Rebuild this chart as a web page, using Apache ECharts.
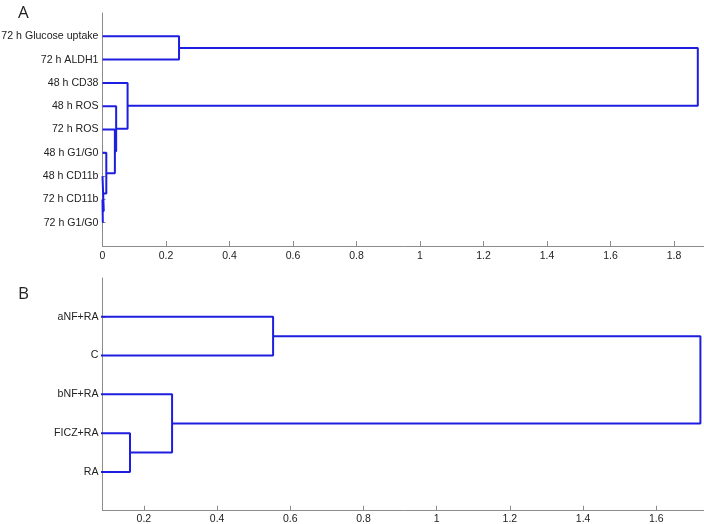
<!DOCTYPE html>
<html>
<head>
<meta charset="utf-8">
<script src="https://cdn.jsdelivr.net/npm/echarts@6/dist/echarts.min.js"></script>
<style>
  html, body { margin: 0; padding: 0; background: #fff; }
  #main { width: 704px; height: 524px; }
</style>
</head>
<body>
<div id="main"></div>
<script>
// leaves, top to bottom
var leavesA = ['72 h Glucose uptake', '72 h ALDH1', '48 h CD38', '48 h ROS', '72 h ROS',
               '48 h G1/G0', '48 h CD11b', '72 h CD11b', '72 h G1/G0'];
var leavesB = ['aNF+RA', 'C', 'bNF+RA', 'FICZ+RA', 'RA'];

// merges: [left node, right node, height]; leaves are 1..n, new nodes n+1, n+2 ...
var linkA = [
  [8, 9, 0.001],
  [7, 10, 0.004],
  [6, 11, 0.012],
  [5, 12, 0.039],
  [4, 13, 0.043],
  [3, 14, 0.079],
  [1, 2, 0.241],
  [16, 15, 1.875]
];
var linkB = [
  [4, 5, 0.162],
  [3, 6, 0.277],
  [1, 2, 0.553],
  [8, 7, 1.7205]
];

// x tick labels
var ticksA = [0, 0.2, 0.4, 0.6, 0.8, 1, 1.2, 1.4, 1.6, 1.8];
var ticksB = [0.2, 0.4, 0.6, 0.8, 1, 1.2, 1.4, 1.6];

var blue = '#1e1ee0';
var gray = '#8c8c8c';

// turn a linkage into U-shaped polylines
function buildLinks(leaves, links, gridIndex) {
  var n = leaves.length;
  var pos = {}, hgt = {};
  for (var i = 1; i <= n; i++) { pos[i] = i; hgt[i] = 0; }
  var out = [];
  links.forEach(function (m, k) {
    var a = m[0], b = m[1], h = m[2];
    out.push({
      type: 'line',
      xAxisIndex: gridIndex,
      yAxisIndex: gridIndex,
      data: [[hgt[a], pos[a]], [h, pos[a]], [h, pos[b]], [hgt[b], pos[b]]],
      showSymbol: false,
      symbol: 'none',
      clip: true,
      silent: true,
      lineStyle: { color: blue, width: 2 }
    });
    pos[n + k + 1] = (pos[a] + pos[b]) / 2;
    hgt[n + k + 1] = h;
  });
  return out;
}

function range(n) {
  var r = [];
  for (var i = 1; i <= n; i++) r.push(i);
  return r;
}

function xAxisFor(gridIndex, min, max, ticks, margin) {
  return {
    type: 'value',
    gridIndex: gridIndex,
    position: 'bottom',
    min: min,
    max: max,
    axisLine: { show: true, onZero: false, lineStyle: { color: gray, width: 1 } },
    axisTick: { show: true, inside: true, length: 5, lineStyle: { color: gray }, customValues: ticks },
    axisLabel: {
      margin: margin,
      customValues: ticks,
      color: '#222',
      fontSize: 10.5,
      fontFamily: 'Liberation Sans',
      formatter: function (v) { return String(v); }
    },
    splitLine: { show: false }
  };
}

function yAxisFor(gridIndex, leaves) {
  return {
    type: 'value',
    gridIndex: gridIndex,
    position: 'left',
    inverse: true,
    min: 0,
    max: leaves.length + 1,
    axisLine: { show: true, onZero: false, lineStyle: { color: gray, width: 1 } },
    axisTick: { show: true, inside: true, length: 3, lineStyle: { color: gray }, customValues: range(leaves.length) },
    axisLabel: {
      margin: 4,
      customValues: range(leaves.length),
      color: '#222',
      fontSize: 10.6,
      fontFamily: 'Liberation Sans',
      formatter: function (v) { return leaves[Math.round(v) - 1] || ''; }
    },
    splitLine: { show: false }
  };
}

var myChart = echarts.init(document.getElementById('main'));

var option = {
  animation: false,
  backgroundColor: '#fff',
  title: [
    { text: 'A', left: 13, top: 0, textStyle: { fontSize: 17, fontWeight: 'normal', color: '#222', fontFamily: 'Open Sans' } },
    { text: 'B', left: 13, top: 281, textStyle: { fontSize: 17, fontWeight: 'normal', color: '#222', fontFamily: 'Open Sans' } }
  ],
  grid: [
    { left: 102.5, right: 0, top: 13, height: 233, containLabel: false, outerBoundsMode: 'none' },
    { left: 102.5, right: 0, top: 278, height: 232.7, containLabel: false, outerBoundsMode: 'none' }
  ],
  xAxis: [
    xAxisFor(0, 0, 1.8945, ticksA, 5),
    xAxisFor(1, 0.0869, 1.7303, ticksB, 3)
  ],
  yAxis: [
    yAxisFor(0, leavesA),
    yAxisFor(1, leavesB)
  ],
  series: buildLinks(leavesA, linkA, 0).concat(buildLinks(leavesB, linkB, 1))
};

myChart.setOption(option);
</script>
</body>
</html>
